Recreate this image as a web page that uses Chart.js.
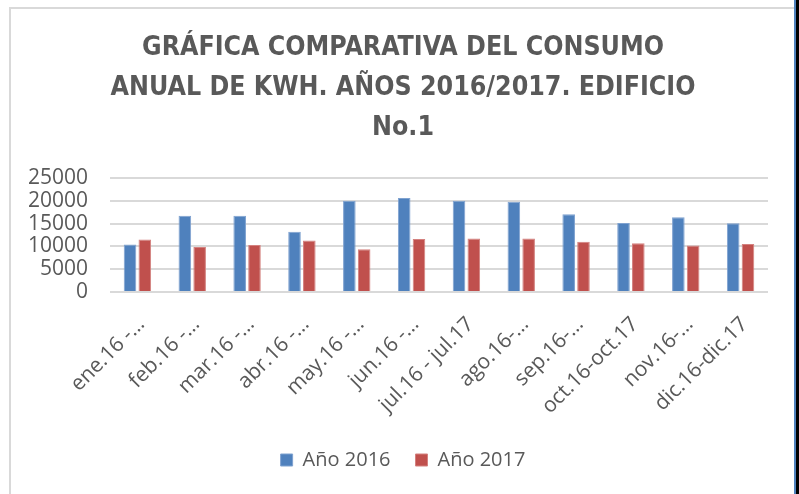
<!DOCTYPE html>
<html>
<head>
<meta charset="utf-8">
<script src="https://cdn.jsdelivr.net/npm/chart.js@4/dist/chart.umd.min.js"></script>
<style>
  html, body { margin: 0; padding: 0; background: #ffffff; }
  #wrap { position: relative; width: 799px; height: 494px; overflow: hidden; background: #ffffff; }
  #frameL { position: absolute; left: 9px; top: 7px; width: 2px; height: 487px; background: #D9D9D9; }
  #frameT { position: absolute; left: 9px; top: 7px; width: 785px; height: 2px; background: #D9D9D9; }
  #frameR { position: absolute; left: 794px; top: 0; width: 2px; height: 494px; background: #4F81BD; }
  #frameB { position: absolute; left: 796px; top: 0; width: 3px; height: 494px; background: #000000; }
  canvas { position: absolute; left: 0; top: 0; }
</style>
</head>
<body>
<div id="wrap">
  <div id="frameL"></div>
  <div id="frameT"></div>
  <div id="frameR"></div>
  <div id="frameB"></div>
  <canvas id="c" width="799" height="494"></canvas>
</div>
<script>
const titleLines = ['GRÁFICA COMPARATIVA DEL CONSUMO', 'ANUAL DE KWH. AÑOS 2016/2017. EDIFICIO', 'No.1'];
const categories = ['ene.16 -…', 'feb.16 -…', 'mar.16 -…', 'abr.16 -…', 'may.16 -…', 'jun.16 -…', 'jul.16 - jul.17', 'ago.16-…', 'sep.16-…', 'oct.16-oct.17', 'nov.16-…', 'dic.16-dic.17'];
const seriesNames = ['Año 2016', 'Año 2017'];
const values2016 = [10400, 16700, 16700, 13200, 20000, 20600, 20000, 19800, 17050, 15150, 16400, 15100];
const values2017 = [11500, 9850, 10300, 11300, 9400, 11600, 11750, 11750, 11000, 10700, 10200, 10500];
const yTicks = [0, 5000, 10000, 15000, 20000, 25000];

const textFont = "'Open Sans', 'Liberation Sans', sans-serif";
const titleFont = "'DejaVu Sans Condensed', 'Liberation Sans', sans-serif";
const grey = '#595959';
const PLOT_BOTTOM = 292;
const BOTTOM_PAD = 14;

// let the y tick labels extend left of the axis box without being clipped
const unclipY = {
  id: 'unclipY',
  afterLayout(chart) {
    const y = chart.scales.y;
    if (y) { y.left = 12; }
  }
};

new Chart(document.getElementById('c'), {
  type: 'bar',
  data: {
    labels: categories,
    datasets: [
      { label: seriesNames[0], data: values2016, backgroundColor: '#4F81BD', borderColor: '#7FA2D0', borderWidth: 1, categoryPercentage: 0.54, barPercentage: 0.85 },
      { label: seriesNames[1], data: values2017, backgroundColor: '#C0504D', borderColor: '#D4817F', borderWidth: 1, categoryPercentage: 0.54, barPercentage: 0.85 }
    ]
  },
  plugins: [unclipY],
  options: {
    responsive: false,
    animation: false,
    devicePixelRatio: 1,
    layout: { padding: { left: 38, right: 31, top: 0, bottom: BOTTOM_PAD } },
    plugins: {
      title: {
        display: true,
        text: titleLines,
        color: grey,
        font: { family: titleFont, size: 26.5, weight: 'bold', lineHeight: '40px' },
        padding: { top: 28, bottom: 30 }
      },
      legend: {
        position: 'bottom',
        labels: {
          color: grey,
          font: { family: textFont, size: 20 },
          boxWidth: 12,
          boxHeight: 12,
          padding: 25
        }
      },
      tooltip: { enabled: false }
    },
    scales: {
      x: {
        grid: { display: false },
        border: { display: false },
        ticks: { color: grey, font: { family: textFont, size: 21 }, minRotation: 45, maxRotation: 45, padding: 12, labelOffset: 4, autoSkip: false },
        afterFit: (s) => {
          const lg = s.chart.legend ? s.chart.legend.height : 0;
          s.height = s.chart.height - BOTTOM_PAD - lg - PLOT_BOTTOM;
        }
      },
      y: {
        min: 0, max: 25000,
        afterBuildTicks: (s) => { s.ticks = yTicks.map(v => ({ value: v })); },
        grid: { color: '#D9D9D9', lineWidth: 2, drawTicks: false },
        border: { display: false },
        ticks: { color: grey, font: { family: textFont, size: 21, lineHeight: 1 }, padding: 22, autoSkip: false, callback: (v) => String(v) },
        afterFit: (s) => { s.width = 72; }
      }
    }
  }
});
</script>
</body>
</html>
